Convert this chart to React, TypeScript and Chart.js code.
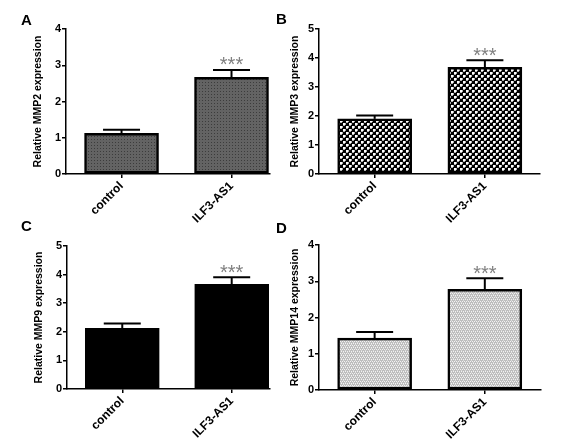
import React, { useEffect, useRef } from "react";
import { Chart, registerables } from "chart.js";

Chart.register(...registerables);

// ---------- data ----------
const categories = ["control", "ILF3-AS1"];
const significance = ["", "***"];

const mmp2Values = [1.12, 2.67];
const mmp2Errors = [0.1, 0.2];

const mmp3Values = [1.9, 3.68];
const mmp3Errors = [0.12, 0.24];

const mmp9Values = [2.12, 3.66];
const mmp9Errors = [0.17, 0.25];

const mmp14Values = [1.43, 2.78];
const mmp14Errors = [0.17, 0.3];

const FONT = '"Liberation Sans", Arial, Helvetica, sans-serif';

type FillKind = "dots" | "check" | "solid" | "stipple";

interface PanelDef {
  letter: string;
  title: string;
  values: number[];
  errors: number[];
  yMax: number;
  fill: FillKind;
  canvas: { left: number; top: number; width: number; height: number };
  area: { left: number; top: number; right: number; bottom: number };
  titlePad: number;
  xMax: number;
  letterPos: { left: number; top: number };
}

const panels: PanelDef[] = [
  {
    letter: "A",
    title: "Relative MMP2 expression",
    values: mmp2Values,
    errors: mmp2Errors,
    yMax: 4,
    fill: "dots",
    canvas: { left: 0, top: 0, width: 280, height: 225 },
    area: { left: 66, top: 29, right: 270, bottom: 174 },
    titlePad: 32,
    xMax: 2.35,
    letterPos: { left: 21, top: 12 },
  },
  {
    letter: "B",
    title: "Relative MMP3 expression",
    values: mmp3Values,
    errors: mmp3Errors,
    yMax: 5,
    fill: "check",
    canvas: { left: 280, top: 0, width: 281, height: 225 },
    area: { left: 39, top: 29, right: 260, bottom: 174 },
    titlePad: 8.7,
    xMax: 2.5,
    letterPos: { left: 276, top: 11 },
  },
  {
    letter: "C",
    title: "Relative MMP9 expression",
    values: mmp9Values,
    errors: mmp9Errors,
    yMax: 5,
    fill: "solid",
    canvas: { left: 0, top: 205, width: 280, height: 240 },
    area: { left: 67, top: 41, right: 270, bottom: 184 },
    titlePad: 32.5,
    xMax: 2.35,
    letterPos: { left: 21, top: 218 },
  },
  {
    letter: "D",
    title: "Relative MMP14 expression",
    values: mmp14Values,
    errors: mmp14Errors,
    yMax: 4,
    fill: "stipple",
    canvas: { left: 280, top: 205, width: 281, height: 240 },
    area: { left: 39, top: 40, right: 261, bottom: 185 },
    titlePad: 8.7,
    xMax: 2.51,
    letterPos: { left: 276, top: 220 },
  },
];

function makePattern(kind: FillKind): CanvasPattern | string {
  if (kind === "solid") return "#000000";
  const c = document.createElement("canvas");
  let size = 3;
  if (kind === "check") size = 6;
  if (kind === "stipple") size = 4;
  c.width = size;
  c.height = size;
  const g = c.getContext("2d")!;
  if (kind === "dots") {
    g.fillStyle = "#636363";
    g.fillRect(0, 0, size, size);
    g.fillStyle = "#3c3c3c";
    g.fillRect(1, 1, 1, 1);
  } else if (kind === "check") {
    g.fillStyle = "#000000";
    g.fillRect(0, 0, size, size);
    g.fillStyle = "#ffffff";
    g.fillRect(0, 0, 2, 2);
    g.fillRect(3, 3, 2, 2);
    g.fillStyle = "#b0b0b0";
    g.fillRect(2, 0, 1, 2);
    g.fillRect(5, 3, 1, 2);
    g.fillRect(0, 2, 2, 1);
    g.fillRect(3, 5, 2, 1);
  } else {
    g.fillStyle = "#bdbdbd";
    g.fillRect(0, 0, size, size);
    g.fillStyle = "#f2f2f2";
    g.fillRect(0, 0, 1, 1);
    g.fillRect(2, 0, 1, 1);
    g.fillRect(1, 2, 1, 1);
    g.fillRect(3, 2, 1, 1);
    g.fillStyle = "#dadada";
    g.fillRect(1, 1, 1, 1);
    g.fillRect(3, 3, 1, 1);
  }
  const p = g.createPattern(c, "repeat");
  return p || "#888";
}

const errorBarPlugin = {
  id: "errorBars",
  afterDatasetsDraw(chart: any, _args: any, opts: any) {
    const { ctx } = chart;
    const yScale = chart.scales.y;
    const meta = chart.getDatasetMeta(0);
    const errors: number[] = opts.errors || [];
    const values: number[] = opts.values || [];
    const labels: string[] = opts.labels || [];
    ctx.save();
    meta.data.forEach((el: any, i: number) => {
      const topPx = yScale.getPixelForValue(values[i] + errors[i]);
      const x = el.x;
      ctx.strokeStyle = "#000";
      ctx.lineWidth = 2;
      ctx.beginPath();
      ctx.moveTo(x, el.y);
      ctx.lineTo(x, topPx);
      ctx.stroke();
      ctx.beginPath();
      ctx.moveTo(x - 18.5, topPx);
      ctx.lineTo(x + 18.5, topPx);
      ctx.stroke();
      if (labels[i]) {
        ctx.fillStyle = "#808080";
        ctx.font = `20px ${FONT}`;
        ctx.textAlign = "center";
        ctx.textBaseline = "alphabetic";
        ctx.fillText(labels[i], x, topPx + 1.5);
      }
    });
    ctx.restore();
  },
};

function Panel({ def }: { def: PanelDef }) {
  const ref = useRef<HTMLCanvasElement | null>(null);
  useEffect(() => {
    if (!ref.current) return;
    const { canvas, area } = def;
    const chart = new Chart(ref.current, {
      type: "bar",
      data: {
        datasets: [
          {
            data: def.values.map((v, i) => ({ x: i + 1, y: v })),
            backgroundColor: makePattern(def.fill) as any,
            borderColor: "#000",
            borderWidth: 2.5,
            borderSkipped: false,
            barThickness: 74,
          } as any,
        ],
      },
      options: {
        animation: false,
        responsive: false,
        devicePixelRatio: 1,
        layout: {
          padding: {
            left: 0,
            top: area.top,
            right: canvas.width - area.right,
            bottom: 0,
          },
        },
        plugins: {
          legend: { display: false },
          tooltip: { enabled: false },
          errorBars: {
            errors: def.errors,
            values: def.values,
            labels: significance,
          },
        } as any,
        scales: {
          x: {
            type: "linear",
            offset: false,
            bounds: "data",
            min: 0.495,
            max: def.xMax,
            afterBuildTicks: (s: any) => {
              s.ticks = categories.map((_, i) => ({ value: i + 1 }));
            },
            afterFit: (s: any) => {
              s.height = canvas.height - area.bottom;
            },
            ticks: {
              callback: (_v: any, i: number) => categories[i] ?? "",
              minRotation: 45,
              maxRotation: 45,
              autoSkip: false,
              color: "#000",
              padding: 1,
              font: { family: FONT, weight: "bold", size: 12 },
            },
            grid: {
              offset: false,
              drawOnChartArea: false,
              drawTicks: true,
              tickLength: 4,
              color: "#000",
              lineWidth: 1.5,
            },
            border: { display: true, color: "#000", width: 1.5 },
          } as any,
          y: {
            min: 0,
            max: def.yMax,
            afterFit: (s: any) => {
              s.width = area.left;
            },
            ticks: {
              stepSize: 1,
              color: "#000",
              padding: 1,
              font: { family: FONT, weight: "bold", size: 11 },
            },
            grid: {
              drawOnChartArea: false,
              drawTicks: true,
              tickLength: 4,
              color: "#000",
              lineWidth: 1.5,
            },
            border: { display: true, color: "#000", width: 1.5 },
            title: {
              display: true,
              text: def.title,
              color: "#000",
              font: { family: FONT, weight: "bold", size: 10.5 },
              padding: { top: def.titlePad, bottom: 0 },
            },
          } as any,
        },
      },
      plugins: [errorBarPlugin as any],
    });
    return () => chart.destroy();
  }, [def]);

  return (
    <>
      <canvas
        ref={ref}
        width={def.canvas.width}
        height={def.canvas.height}
        style={{
          position: "absolute",
          left: def.canvas.left,
          top: def.canvas.top,
          width: def.canvas.width,
          height: def.canvas.height,
        }}
      />
      <div
        style={{
          position: "absolute",
          left: def.letterPos.left,
          top: def.letterPos.top,
          fontFamily: FONT,
          fontWeight: "bold",
          fontSize: 15,
          lineHeight: "15px",
          color: "#000",
        }}
      >
        {def.letter}
      </div>
    </>
  );
}

export default function App() {
  return (
    <div
      style={{
        position: "absolute",
        left: 0,
        top: 0,
        width: 561,
        height: 445,
        overflow: "hidden",
        background: "#fff",
      }}
    >
      {panels.map((p) => (
        <Panel key={p.letter} def={p} />
      ))}
    </div>
  );
}
